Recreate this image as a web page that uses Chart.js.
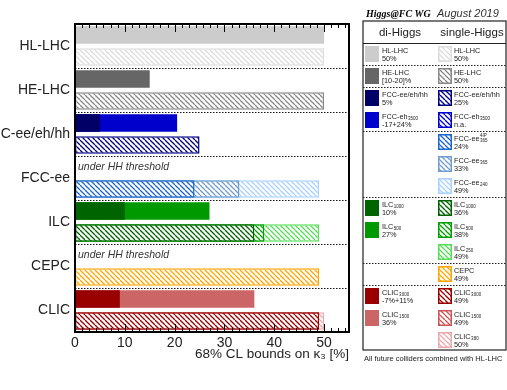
<!DOCTYPE html>
<html>
<head>
<meta charset="utf-8">
<script src="https://cdn.jsdelivr.net/npm/chart.js@4.4.1/dist/chart.umd.min.js"></script>
<style>
  html, body { margin: 0; padding: 0; background: #fff; }
  canvas { display: block; }
</style>
</head>
<body>
<canvas id="kappaChart" width="507" height="390"></canvas>
<script>
// one row per collider, di-Higgs bar on top, single-Higgs bar below
const colliders = ["HL-LHC", "HE-LHC", "FCC-ee/eh/hh", "FCC-ee", "ILC", "CEPC", "CLIC"];

// di-Higgs (filled bars)
const diNames  = ["HL-LHC", "HE-LHC", "FCC-ee/eh/hh", "FCC-eh", "ILC", "ILC", "CLIC", "CLIC"];
const diSubs   = ["", "", "", "3500", "1000", "500", "3000", "1500"];
const diNotes  = ["50%", "[10-20]%", "5%", "-17+24%", "10%", "27%", "-7%+11%", "36%"];
const diRows   = [0, 1, 2, 2, 4, 4, 6, 6];
const diValues = [50, 15, 5, 20.5, 10, 27, 9, 36];

// single-Higgs (hatched bars)
const singleNames  = ["HL-LHC", "HE-LHC", "FCC-ee/eh/hh", "FCC-eh", "FCC-ee", "FCC-ee", "FCC-ee", "ILC", "ILC", "ILC", "CEPC", "CLIC", "CLIC", "CLIC"];
const singleSubs   = ["", "", "", "3500", "365", "365", "240", "1000", "500", "250", "", "3000", "1500", "380"];
const singleSups   = ["", "", "", "", "4IP", "", "", "", "", "", "", "", "", ""];
const singleNotes  = ["50%", "50%", "25%", "n.a.", "24%", "33%", "49%", "36%", "38%", "49%", "49%", "49%", "49%", "50%"];
const singleRows   = [0, 1, 2, 2, 3, 3, 3, 4, 4, 4, 5, 6, 6, 6];
const singleValues = [50, 50, 25, null, 24, 33, 49, 36, 38, 49, 49, 49, 49, 50];

// x axis
const xMin = 0, xMax = 55, xStep = 10, minorPerMajor = 7;

// colours
const diColors = ["#cccccc", "#666666", "#000066", "#0000cc", "#006400", "#009900", "#990000", "#cc6666"];
const singleColors = ["#dcdcdc", "#888888", "#000080", "#0000cc", "#1a66cc", "#6f9ccc", "#a8d0ff",
                      "#006400", "#00a000", "#55dd55", "#ffa500", "#990000", "#cc5555", "#e8aaaa"];

const FONT = "'Liberation Sans', Arial, sans-serif";
Chart.defaults.font.family = FONT;
Chart.defaults.color = "#222";

function hatch(color) {
	const s = 5;
	const c = document.createElement("canvas");
	c.width = c.height = s;
	const g = c.getContext("2d");
	g.fillStyle = "#fff";
	g.fillRect(0, 0, s, s);
	g.strokeStyle = color;
	g.lineWidth = 1.3;
	for (const o of [-s, 0, s]) {
		g.beginPath();
		g.moveTo(o, 0);
		g.lineTo(o + s, s);
		g.stroke();
	}
	return g.createPattern(c, "repeat");
}

const slotLabels = [];
colliders.forEach(c => { slotLabels.push(c + " di-Higgs"); slotLabels.push(c + " single-Higgs"); });

function slotData(slot, value) {
	const d = new Array(slotLabels.length).fill(null);
	d[slot] = value;
	return d;
}

const datasets = [];
diValues.forEach((v, i) => {
	datasets.push({
		label: "di-Higgs " + diNames[i] + diSubs[i],
		data: slotData(2 * diRows[i], v),
		backgroundColor: diColors[i],
		borderWidth: 0,
		order: v,
	});
});
singleValues.forEach((v, i) => {
	if (v === null) return;
	datasets.push({
		label: "single-Higgs " + singleNames[i] + singleSubs[i],
		data: slotData(2 * singleRows[i] + 1, v),
		backgroundColor: hatch(singleColors[i]),
		borderColor: singleColors[i],
		borderWidth: 1.5,
		borderSkipped: false,
		order: v,
	});
});

// name with small sub/superscript
function drawName(ctx, x, y, name, sub, sup) {
	ctx.font = "7.3px " + FONT;
	ctx.fillText(name, x, y);
	const w = ctx.measureText(name).width;
	ctx.font = "4.5px " + FONT;
	if (sub) ctx.fillText(sub, x + w + 0.5, y + 2.5);
	if (sup) ctx.fillText(sup, x + w + 0.5, y - 3);
}

const decor = {
	id: "decor",
	afterDraw(chart) {
		const { ctx, chartArea: a, scales: { x, y } } = chart;
		ctx.save();

		// dotted separators between colliders
		ctx.strokeStyle = "#111";
		ctx.lineWidth = 1;
		ctx.setLineDash([1.5, 1.5]);
		for (let r = 1; r < colliders.length; r++) {
			const py = Math.round((y.getPixelForValue(2 * r - 1) + y.getPixelForValue(2 * r)) / 2) + 0.5;
			ctx.beginPath();
			ctx.moveTo(a.left, py); ctx.lineTo(a.right, py);
			ctx.stroke();
		}
		ctx.setLineDash([]);

		// inward tick marks, top and bottom
		ctx.strokeStyle = "#000";
		ctx.lineWidth = 1;
		const minor = xStep / minorPerMajor;
		for (let k = 0; xMin + k * minor <= xMax + 1e-6; k++) {
			const px = Math.round(x.getPixelForValue(xMin + k * minor)) + 0.5;
			const len = k % minorPerMajor === 0 ? 8 : 4;
			ctx.beginPath();
			ctx.moveTo(px, a.top); ctx.lineTo(px, a.top + len);
			ctx.moveTo(px, a.bottom); ctx.lineTo(px, a.bottom - len);
			ctx.stroke();
		}

		// frame
		ctx.lineWidth = 2;
		ctx.strokeRect(a.left, a.top, a.right - a.left, a.bottom - a.top);

		// rows without di-Higgs bar
		ctx.fillStyle = "#333";
		ctx.font = "italic 10.5px " + FONT;
		ctx.textBaseline = "middle";
		colliders.forEach((c, r) => {
			if (!diRows.includes(r)) ctx.fillText("under HH threshold", a.left + 3, y.getPixelForValue(2 * r));
		});

		// legend panel
		const L = { left: 363, right: 506, top: 21, bottom: 350, rowTop: 46, rowStep: 22, diX: 365, singleX: 438 };
		ctx.fillStyle = "#000";
		ctx.font = "bold italic 10px 'Liberation Serif', serif";
		ctx.fillText("Higgs@FC WG", 366, 14);
		ctx.fillStyle = "#333";
		ctx.font = "italic 11px " + FONT;
		ctx.fillText("August 2019", 437, 14);

		ctx.strokeStyle = "#222";
		ctx.lineWidth = 1.2;
		ctx.strokeRect(L.left, L.top, L.right - L.left, L.bottom - L.top);
		ctx.beginPath();
		ctx.moveTo(L.left, 43.5); ctx.lineTo(L.right, 43.5);
		ctx.stroke();

		ctx.fillStyle = "#222";
		ctx.font = "11.5px " + FONT;
		ctx.textAlign = "center";
		ctx.fillText("di-Higgs", 400, 33);
		ctx.fillText("single-Higgs", 472, 33);
		ctx.textAlign = "left";

		ctx.setLineDash([1.5, 1.5]);
		ctx.lineWidth = 1;
		ctx.strokeStyle = "#222";
		[1, 2, 4, 7, 10, 11].forEach(k => {
			const yy = L.rowTop + k * L.rowStep - 2.5;
			ctx.beginPath();
			ctx.moveTo(L.left, yy); ctx.lineTo(L.right, yy);
			ctx.stroke();
		});
		ctx.setLineDash([]);

		const diLegendRows = [0, 1, 2, 3, 7, 8, 11, 12];
		diNames.forEach((n, i) => {
			const top = L.rowTop + diLegendRows[i] * L.rowStep;
			ctx.fillStyle = diColors[i];
			ctx.fillRect(L.diX, top, 14, 16);
			ctx.fillStyle = "#222";
			drawName(ctx, L.diX + 17, top + 4.5, n, diSubs[i], "");
			ctx.font = "7.3px " + FONT;
			ctx.fillText(diNotes[i], L.diX + 17, top + 12.5);
		});
		singleNames.forEach((n, i) => {
			const top = L.rowTop + i * L.rowStep;
			ctx.fillStyle = hatch(singleColors[i]);
			ctx.fillRect(L.singleX, top, 14, 16);
			ctx.strokeStyle = singleColors[i];
			ctx.lineWidth = 1.5;
			ctx.strokeRect(L.singleX + 0.75, top + 0.75, 12.5, 14.5);
			ctx.fillStyle = "#222";
			drawName(ctx, L.singleX + 16, top + 4.5, n, singleSubs[i], singleSups[i]);
			ctx.font = "7.3px " + FONT;
			ctx.fillText(singleNotes[i], L.singleX + 16, top + 12.5);
		});

		ctx.font = "7.5px " + FONT;
		ctx.fillStyle = "#222";
		ctx.fillText("All future colliders combined with HL-LHC", 364, 359);
		ctx.restore();
	},
};

new Chart(document.getElementById("kappaChart").getContext("2d"), {
	type: "bar",
	data: { labels: slotLabels, datasets: datasets },
	plugins: [decor],
	options: {
		indexAxis: "y",
		responsive: false,
		animation: false,
		layout: { padding: { top: 24, right: 158, bottom: 28, left: 0 } },
		datasets: { bar: { grouped: false, barPercentage: 0.8, categoryPercentage: 1 } },
		plugins: { legend: { display: false }, tooltip: { enabled: false } },
		scales: {
			x: {
				type: "linear",
				min: xMin,
				max: xMax,
				grid: { display: false, drawTicks: false },
				border: { display: false },
				ticks: { stepSize: xStep, includeBounds: false, padding: 3, font: { size: 14 }, color: "#222", maxRotation: 0 },
				title: { display: true, text: "68% CL bounds on κ₃ [%]", align: "end", padding: 0, font: { size: 13.5 }, color: "#222" },
				afterFit: s => { s.height = 30; },
			},
			y: { type: "category", labels: slotLabels, display: false, offset: true },
			y2: {
				type: "category",
				labels: colliders,
				position: "left",
				offset: true,
				grid: { display: false, drawTicks: false },
				border: { display: false },
				ticks: { padding: 5, font: { size: 14 }, color: "#222" },
				afterFit: s => { s.width = 75; },
			},
		},
	},
});
</script>
</body>
</html>
